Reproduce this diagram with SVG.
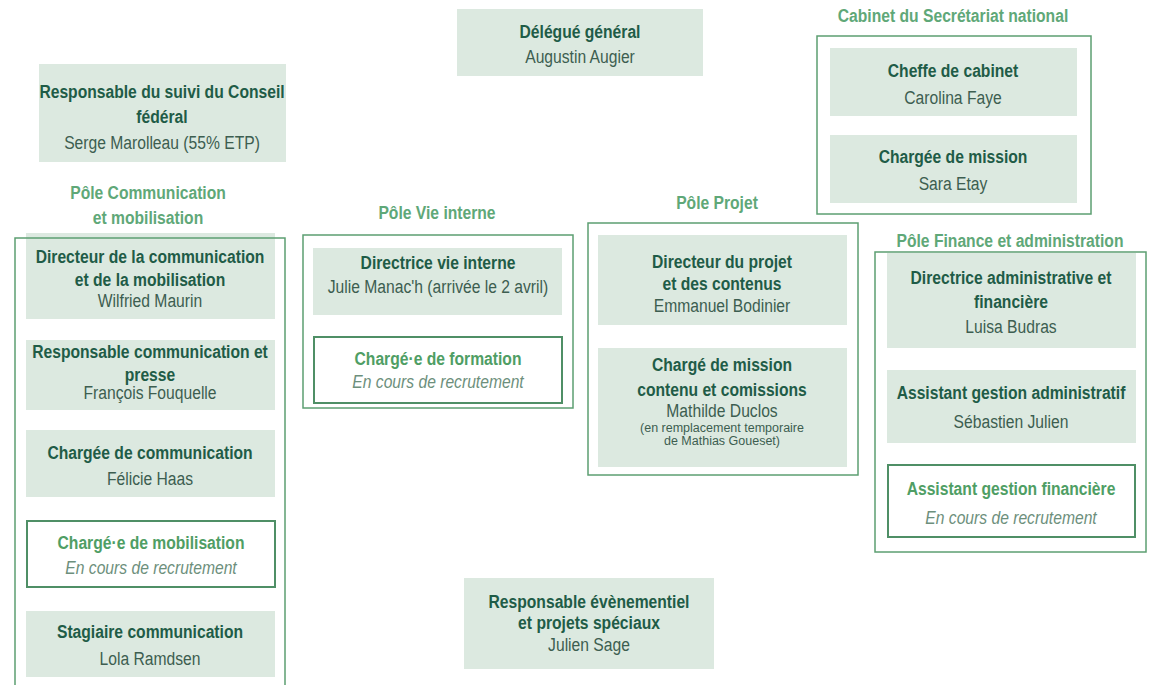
<svg xmlns="http://www.w3.org/2000/svg" width="1159" height="685" viewBox="0 0 1159 685">
<style>
text{font-family:"Liberation Sans",Arial,sans-serif;text-anchor:middle}
.bg{fill:#ffffff}
.box{fill:#dce9e0}
.cont{fill:none;stroke:#5c9f72;stroke-width:1.5}
.obox{fill:#ffffff;stroke:#4f8f66;stroke-width:2}
.t{font-size:18px;font-weight:bold;fill:#1f5c47}
.n{font-size:18px;fill:#3d5e50}
.p{font-size:18px;font-weight:bold;fill:#5fa878}
.ot{font-size:18px;font-weight:bold;fill:#4f9e64}
.oi{font-size:18px;font-style:italic;fill:#6d8f7c}
.s{font-size:12.5px;fill:#3d5e50}
</style>
<rect class="bg" x="0" y="0" width="1159" height="685"/>

<g id="delegue">
<rect class="box" x="457" y="9" width="246" height="67"/>
<g transform="translate(580,0) scale(0.87,1)">
<text class="t" x="0" y="38">Délégué général</text>
<text class="n" x="0" y="63">Augustin Augier</text>
</g>
</g>

<g id="suivi-conseil">
<rect class="box" x="39" y="64" width="247" height="98"/>
<g transform="translate(162,0) scale(0.87,1)">
<text class="t" x="0" y="98">Responsable du suivi du Conseil</text>
<text class="t" x="0" y="123">fédéral</text>
<text class="n" x="0" y="149">Serge Marolleau (55% ETP)</text>
</g>
</g>

<g id="cabinet">
<g transform="translate(953,0) scale(0.87,1)">
<text class="p" x="0" y="22">Cabinet du Secrétariat national</text>
</g>
<rect class="cont" x="817" y="36" width="274" height="178"/>
<g id="cheffe-cabinet">
<rect class="box" x="830" y="48" width="247" height="68"/>
<g transform="translate(953,0) scale(0.87,1)">
<text class="t" x="0" y="77">Cheffe de cabinet</text>
<text class="n" x="0" y="104">Carolina Faye</text>
</g>
</g>
<g id="chargee-mission-cabinet">
<rect class="box" x="830" y="135" width="247" height="68"/>
<g transform="translate(953,0) scale(0.87,1)">
<text class="t" x="0" y="163">Chargée de mission</text>
<text class="n" x="0" y="190">Sara Etay</text>
</g>
</g>
</g>

<g id="pole-communication">
<g transform="translate(148,0) scale(0.87,1)">
<text class="p" x="0" y="199">Pôle Communication</text>
<text class="p" x="0" y="224">et mobilisation</text>
</g>
<g id="dir-communication">
<rect class="box" x="26" y="233" width="249" height="86"/>
<g transform="translate(150,0) scale(0.87,1)">
<text class="t" x="0" y="263">Directeur de la communication</text>
<text class="t" x="0" y="286">et de la mobilisation</text>
<text class="n" x="0" y="307">Wilfried Maurin</text>
</g>
</g>
<path class="cont" d="M15 685 V238 H285 V685"/>
<g id="resp-communication">
<rect class="box" x="26" y="340" width="249" height="70"/>
<g transform="translate(150,0) scale(0.87,1)">
<text class="t" x="0" y="358">Responsable communication et</text>
<text class="t" x="0" y="381">presse</text>
<text class="n" x="0" y="399">François Fouquelle</text>
</g>
</g>
<g id="chargee-communication">
<rect class="box" x="26" y="430" width="249" height="67"/>
<g transform="translate(150,0) scale(0.87,1)">
<text class="t" x="0" y="459">Chargée de communication</text>
<text class="n" x="0" y="485">Félicie Haas</text>
</g>
</g>
<g id="charge-mobilisation">
<rect class="obox" x="27" y="521" width="248" height="66"/>
<g transform="translate(151,0) scale(0.87,1)">
<text class="ot" x="0" y="549">Chargé·e de mobilisation</text>
<text class="oi" x="0" y="574">En cours de recrutement</text>
</g>
</g>
<g id="stagiaire-communication">
<rect class="box" x="26" y="611" width="249" height="66"/>
<g transform="translate(150,0) scale(0.87,1)">
<text class="t" x="0" y="638">Stagiaire communication</text>
<text class="n" x="0" y="665">Lola Ramdsen</text>
</g>
</g>
</g>

<g id="pole-vie-interne">
<g transform="translate(437,0) scale(0.87,1)">
<text class="p" x="0" y="219">Pôle Vie interne</text>
</g>
<rect class="cont" x="303" y="235" width="270" height="173"/>
<g id="dir-vie-interne">
<rect class="box" x="313" y="248" width="249" height="67"/>
<g transform="translate(438,0) scale(0.87,1)">
<text class="t" x="0" y="269">Directrice vie interne</text>
<text class="n" x="0" y="293">Julie Manac'h (arrivée le 2 avril)</text>
</g>
</g>
<g id="charge-formation">
<rect class="obox" x="314" y="337" width="248" height="66"/>
<g transform="translate(438,0) scale(0.87,1)">
<text class="ot" x="0" y="365">Chargé·e de formation</text>
<text class="oi" x="0" y="388">En cours de recrutement</text>
</g>
</g>
</g>

<g id="pole-projet">
<g transform="translate(717,0) scale(0.87,1)">
<text class="p" x="0" y="209">Pôle Projet</text>
</g>
<rect class="cont" x="588" y="223" width="270" height="252"/>
<g id="dir-projet">
<rect class="box" x="598" y="235" width="249" height="90"/>
<g transform="translate(722,0) scale(0.87,1)">
<text class="t" x="0" y="268">Directeur du projet</text>
<text class="t" x="0" y="290">et des contenus</text>
<text class="n" x="0" y="312">Emmanuel Bodinier</text>
</g>
</g>
<g id="charge-mission-contenu">
<rect class="box" x="598" y="348" width="249" height="119"/>
<g transform="translate(722,0) scale(0.87,1)">
<text class="t" x="0" y="371">Chargé de mission</text>
<text class="t" x="0" y="396">contenu et comissions</text>
<text class="n" x="0" y="417">Mathilde Duclos</text>
</g>
<text class="s" x="722" y="432">(en remplacement temporaire</text>
<text class="s" x="722" y="445">de Mathias Goueset)</text>
</g>
</g>

<g id="pole-finance">
<g transform="translate(1010,0) scale(0.87,1)">
<text class="p" x="0" y="247">Pôle Finance et administration</text>
</g>
<rect class="cont" x="875" y="252" width="271" height="300"/>
<g id="dir-administrative">
<rect class="box" x="887" y="253" width="249" height="95"/>
<g transform="translate(1011,0) scale(0.87,1)">
<text class="t" x="0" y="284">Directrice administrative et</text>
<text class="t" x="0" y="308">financière</text>
<text class="n" x="0" y="333">Luisa Budras</text>
</g>
</g>
<g id="assistant-administratif">
<rect class="box" x="887" y="370" width="249" height="73"/>
<g transform="translate(1011,0) scale(0.87,1)">
<text class="t" x="0" y="399">Assistant gestion administratif</text>
<text class="n" x="0" y="428">Sébastien Julien</text>
</g>
</g>
<g id="assistant-financiere">
<rect class="obox" x="888" y="465" width="247" height="72"/>
<g transform="translate(1011,0) scale(0.87,1)">
<text class="ot" x="0" y="495">Assistant gestion financière</text>
<text class="oi" x="0" y="524">En cours de recrutement</text>
</g>
</g>
</g>

<g id="resp-evenementiel">
<rect class="box" x="464" y="578" width="250" height="91"/>
<g transform="translate(589,0) scale(0.87,1)">
<text class="t" x="0" y="608">Responsable évènementiel</text>
<text class="t" x="0" y="629">et projets spéciaux</text>
<text class="n" x="0" y="651">Julien Sage</text>
</g>
</g>

<g id="connectors"></g>
</svg>
